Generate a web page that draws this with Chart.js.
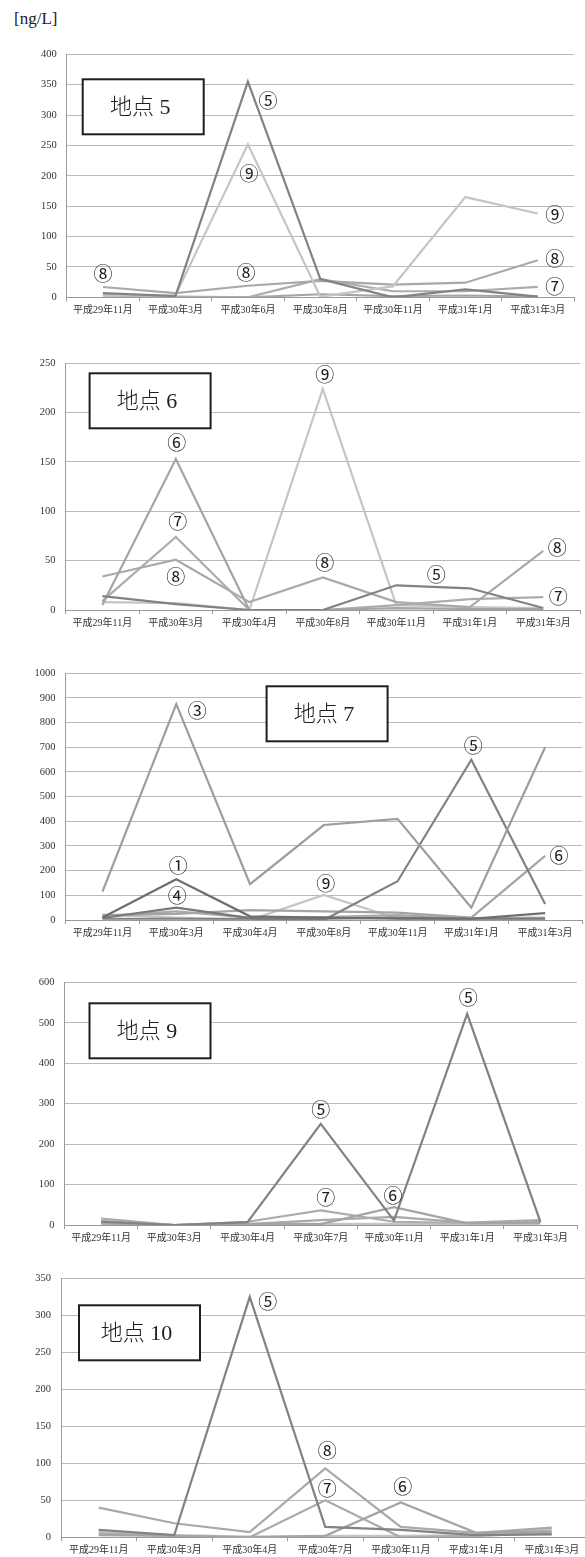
<!DOCTYPE html>
<html lang="ja">
<head>
<meta charset="utf-8">
<title>地点別濃度推移</title>
<script src="https://cdn.jsdelivr.net/npm/chart.js@4.4.1/dist/chart.umd.min.js"></script>
<style>
  html, body { margin: 0; padding: 0; background: #fff; }
  body { width: 585px; height: 1557px; overflow: hidden; position: relative; }
  #unit { position: absolute; left: 14px; top: 9px; font: 17px 'Liberation Serif', serif; color: #222; }
  canvas { position: absolute; left: 0; }
</style>
</head>
<body>
<div id="unit">[ng/L]</div>
<canvas id="c5"></canvas>
<canvas id="c6"></canvas>
<canvas id="c7"></canvas>
<canvas id="c9"></canvas>
<canvas id="c10"></canvas>
<script>
// ---- sampling months ----
const months5  = ['平成29年11月', '平成30年3月', '平成30年6月', '平成30年8月', '平成30年11月', '平成31年1月', '平成31年3月'];
const months67 = ['平成29年11月', '平成30年3月', '平成30年4月', '平成30年8月', '平成30年11月', '平成31年1月', '平成31年3月'];
const months910 = ['平成29年11月', '平成30年3月', '平成30年4月', '平成30年7月', '平成30年11月', '平成31年1月', '平成31年3月'];

// ---- 地点5 [ng/L] ----
const site5_no5 = [7, 2, 355, 30, 0, 13, 1];
const site5_no9 = [3, 3, 252, 1, 18, 165, 138];
const site5_no8 = [17, 7, 19, 27, 21, 24, 61];
const site5_no7 = [3, 0, 0, 30, 10, 10, 17];
const site5_no6 = [4, 1, 0, 5, 2, 3, 1];

// ---- 地点6 ----
const site6_no5 = [14, 6, 0, 0, 25, 22, 2];
const site6_no6 = [5, 153, 0, 0, 2, 1, 1];
const site6_no7 = [9, 74, 0, 0, 5, 11, 13];
const site6_no8 = [34, 51, 8, 33, 8, 3, 60];
const site6_no9 = [8, 7, 0, 224, 5, 3, 2];

// ---- 地点7 ----
const site7_no1 = [10, 165, 15, 10, 5, 5, 28];
const site7_no3 = [115, 875, 145, 385, 410, 50, 700];
const site7_no4 = [8, 50, 8, 5, 10, 5, 5];
const site7_no5 = [5, 5, 5, 0, 157, 650, 65];
const site7_no6 = [20, 25, 40, 35, 30, 10, 260];
const site7_no8 = [15, 35, 10, 12, 20, 8, 10];
const site7_no9 = [22, 10, 0, 102, 5, 5, 5];

// ---- 地点9 ----
const site9_no5 = [8, 0, 7, 250, 11, 522, 8];
const site9_no6 = [4, 0, 3, 2, 44, 4, 6];
const site9_no7 = [10, 0, 8, 36, 8, 5, 8];
const site9_no8 = [16, 0, 2, 12, 20, 6, 12];
const site9_no9 = [3, 0, 2, 3, 3, 2, 3];

// ---- 地点10 ----
const site10_no5 = [10, 3, 325, 14, 10, 3, 4];
const site10_no6 = [3, 2, 0, 2, 47, 6, 8];
const site10_no7 = [5, 2, 0, 50, 0, 2, 6];
const site10_no8 = [40, 19, 7, 93, 14, 6, 13];
const site10_no9 = [7, 3, 1, 2, 2, 3, 11];

// ---- axis ranges ----
const yMax  = { s5: 400, s6: 250, s7: 1000, s9: 600, s10: 350 };
const yStep = { s5: 50,  s6: 50,  s7: 100,  s9: 100, s10: 50 };

// line shade per compound number
const shade = { 1: '#6e6e6e', 3: '#9d9d9d', 4: '#787878', 5: '#828282', 6: '#a4a4a4', 7: '#acacac', 8: '#a9a9a9', 9: '#c5c5c5' };
const circled = ['', '①', '②', '③', '④', '⑤', '⑥', '⑦', '⑧', '⑨'];

const SERIF = "'Liberation Serif', 'Noto Sans CJK JP', serif";
const CANVAS_W = 595;

const sites = [
  { id: 'c5', title: '地点 5', labels: months5, max: yMax.s5, step: yStep.s5,
    series: [[5, site5_no5], [9, site5_no9], [8, site5_no8], [7, site5_no7], [6, site5_no6]],
    notes: [{ n: 5, i: 2, dx: 20, dy: 19 }, { n: 9, i: 2, dx: 1, dy: 30 }, { n: 9, i: 6, dx: 17, dy: 1 },
            { n: 8, i: 0, dx: 0, dy: -13 }, { n: 8, i: 2, dx: -2, dy: -13 }, { n: 8, i: 6, dx: 17, dy: -1 },
            { n: 7, i: 6, dx: 17, dy: 0 }],
    plot: { top: 52.7, bottom: 297.3, left: 66.7, right: 574 }, box: { x: 16, y: 25 } },
  { id: 'c6', title: '地点 6', labels: months67, max: yMax.s6, step: yStep.s6,
    series: [[5, site6_no5], [6, site6_no6], [7, site6_no7], [8, site6_no8], [9, site6_no9]],
    notes: [{ n: 9, i: 3, dx: 2, dy: -14 }, { n: 6, i: 1, dx: 1, dy: -16 }, { n: 7, i: 1, dx: 2, dy: -15 },
            { n: 8, i: 1, dx: 0, dy: 17 }, { n: 8, i: 3, dx: 2, dy: -15 }, { n: 5, i: 4, dx: 40, dy: -11 },
            { n: 8, i: 6, dx: 14, dy: -3 }, { n: 7, i: 6, dx: 15, dy: 0 }],
    plot: { top: 361.7, bottom: 610, left: 65.6, right: 580 }, box: { x: 24, y: 10 } },
  { id: 'c7', title: '地点 7', labels: months67, max: yMax.s7, step: yStep.s7,
    series: [[1, site7_no1], [3, site7_no3], [4, site7_no4], [5, site7_no5], [6, site7_no6], [8, site7_no8], [9, site7_no9]],
    notes: [{ n: 3, i: 1, dx: 21, dy: 7 }, { n: 5, i: 5, dx: 2, dy: -14 }, { n: 1, i: 1, dx: 2, dy: -14 },
            { n: 4, i: 1, dx: 1, dy: -12 }, { n: 9, i: 3, dx: 2, dy: -11 }, { n: 6, i: 6, dx: 14, dy: 0 }],
    plot: { top: 671.7, bottom: 920, left: 65.6, right: 582 }, box: { x: 201, y: 13 } },
  { id: 'c9', title: '地点 9', labels: months910, max: yMax.s9, step: yStep.s9,
    series: [[5, site9_no5], [6, site9_no6], [7, site9_no7], [8, site9_no8], [9, site9_no9]],
    notes: [{ n: 5, i: 5, dx: 1, dy: -16 }, { n: 5, i: 3, dx: 0, dy: -14 }, { n: 7, i: 3, dx: 5, dy: -13 },
            { n: 6, i: 4, dx: -1, dy: -11 }],
    plot: { top: 980, bottom: 1225, left: 64.5, right: 577 }, box: { x: 25, y: 21 } },
  { id: 'c10', title: '地点 10', labels: months910, max: yMax.s10, step: yStep.s10,
    series: [[5, site10_no5], [6, site10_no6], [7, site10_no7], [8, site10_no8], [9, site10_no9]],
    notes: [{ n: 5, i: 2, dx: 18, dy: 5 }, { n: 8, i: 3, dx: 2, dy: -18 }, { n: 7, i: 3, dx: 2, dy: -12 },
            { n: 6, i: 4, dx: 2, dy: -16 }],
    plot: { top: 1276, bottom: 1537.3, left: 61, right: 589.5 }, box: { x: 18, y: 27 } }
];

// circled compound numbers next to the lines
const noteLabels = {
  id: 'noteLabels',
  afterDatasetsDraw(chart, args, opts) {
    const ctx = chart.ctx;
    ctx.save();
    ctx.font = "19px 'Noto Sans CJK JP', 'DejaVu Sans', sans-serif";
    ctx.fillStyle = '#1e1e1e';
    ctx.textAlign = 'center';
    ctx.textBaseline = 'middle';
    (opts.notes || []).forEach(nt => {
      const dsIndex = chart.data.datasets.findIndex(d => d.compound === nt.n);
      const pt = chart.getDatasetMeta(dsIndex).data[nt.i];
      ctx.fillText(circled[nt.n], pt.x + nt.dx, pt.y + nt.dy);
    });
    ctx.restore();
  }
};

// framed site name
const siteBox = {
  id: 'siteBox',
  afterDraw(chart, args, opts) {
    const ctx = chart.ctx;
    const a = chart.chartArea;
    const x = a.left + opts.x, y = a.top + opts.y, w = 121, h = 55;
    ctx.save();
    ctx.fillStyle = '#fff';
    ctx.fillRect(x, y, w, h);
    ctx.strokeStyle = '#1e1e1e';
    ctx.lineWidth = 2;
    ctx.strokeRect(x, y, w, h);
    ctx.fillStyle = '#1e1e1e';
    ctx.font = "300 22px " + SERIF;
    ctx.textAlign = 'center';
    ctx.textBaseline = 'middle';
    ctx.fillText(opts.title, x + w / 2 - 3, y + h / 2 + 1);
    ctx.restore();
  }
};

sites.forEach(s => {
  const canvas = document.getElementById(s.id);
  const top = Math.floor(s.plot.top) - 14;
  const height = Math.ceil(s.plot.bottom) + 30 - top;
  canvas.width = CANVAS_W;
  canvas.height = height;
  canvas.style.width = CANVAS_W + 'px';
  canvas.style.height = height + 'px';
  canvas.style.top = top + 'px';
  const padTop = s.plot.top - top;
  const areaH = s.plot.bottom - s.plot.top;
  const xAxisH = height - padTop - areaH;

  new Chart(canvas, {
    type: 'line',
    data: {
      labels: s.labels,
      datasets: s.series.map(([n, values]) => ({
        label: circled[n],
        compound: n,
        data: values,
        borderColor: shade[n],
        backgroundColor: shade[n],
        borderWidth: 2.2,
        pointRadius: 0,
        tension: 0,
        fill: false
      }))
    },
    options: {
      responsive: false,
      animation: false,
      devicePixelRatio: 1,
      layout: { padding: { top: padTop, right: CANVAS_W - s.plot.right, bottom: 0, left: 0 } },
      plugins: {
        legend: { display: false },
        tooltip: { enabled: false },
        noteLabels: { notes: s.notes },
        siteBox: { title: s.title, x: s.box.x, y: s.box.y }
      },
      scales: {
        x: {
          type: 'category',
          offset: true,
          grid: { offset: true, drawOnChartArea: false, drawTicks: true, tickLength: 4, color: '#9a9a9a' },
          border: { display: true, color: '#9a9a9a', width: 1 },
          ticks: { autoSkip: false, maxRotation: 0, minRotation: 0, padding: 3, color: '#333',
                   font: { family: SERIF, size: 10 } },
          afterFit(scale) { scale.height = xAxisH; }
        },
        y: {
          min: 0,
          max: s.max,
          ticks: { stepSize: s.step, padding: 10, color: '#333', font: { family: SERIF, size: 10.5 },
                   callback: v => String(v) },
          grid: { drawTicks: false, color: '#b9b9b9', lineWidth: 1 },
          border: { display: true, color: '#9a9a9a', width: 1 },
          afterFit(scale) { scale.width = s.plot.left; }
        }
      }
    },
    plugins: [noteLabels, siteBox]
  });
});
</script>
</body>
</html>
